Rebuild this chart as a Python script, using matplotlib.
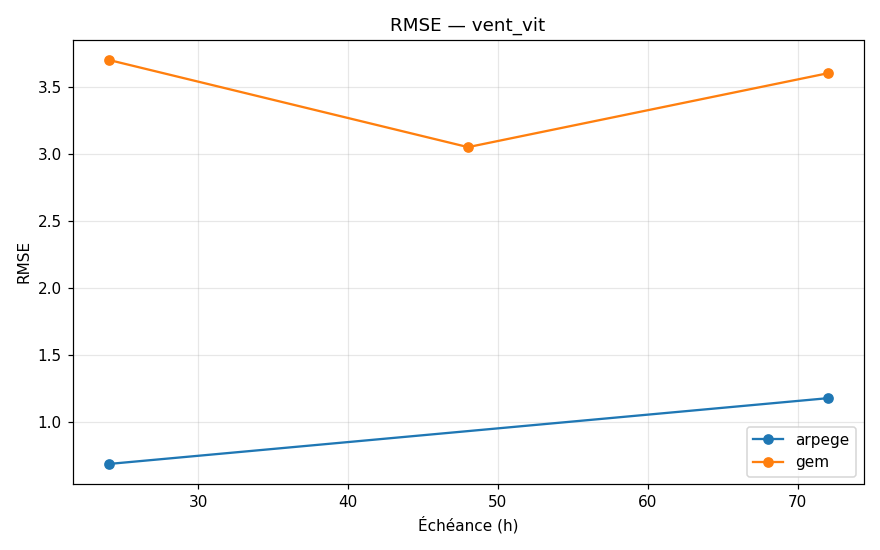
import matplotlib
matplotlib.use("Agg")
import matplotlib.pyplot as plt

# RMSE by lead time for each model
arpege_hours = [24, 72]
arpege_rmse = [0.69, 1.18]
gem_hours = [24, 48, 72]
gem_rmse = [3.70, 3.05, 3.60]

fig, ax = plt.subplots(figsize=(8, 5), dpi=110)
ax.plot(arpege_hours, arpege_rmse, marker='o', label='arpege')
ax.plot(gem_hours, gem_rmse, marker='o', label='gem')

ax.set_title("RMSE — vent_vit")
ax.set_xlabel("Échéance (h)")
ax.set_ylabel("RMSE")
ax.grid(True, alpha=0.3)
ax.legend(loc='lower right')

fig.tight_layout()
fig.savefig("out.png")
